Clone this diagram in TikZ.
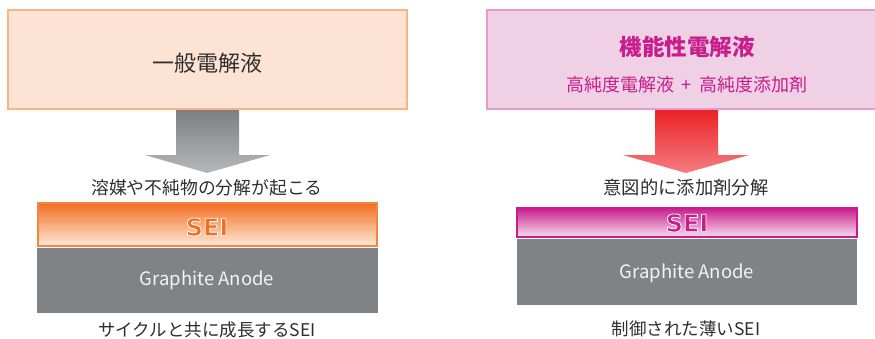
\documentclass[tikz,border=0pt]{standalone}
\usepackage{fontspec}
\setmainfont{Noto Sans CJK JP}
\newfontfamily\seifont{DejaVu Sans}
\definecolor{peachfill}{HTML}{FDE3D3}
\definecolor{peachline}{HTML}{FBB384}
\definecolor{pinkfill}{HTML}{F0D0E5}
\definecolor{pinkline}{HTML}{E39CCB}
\definecolor{magenta1}{HTML}{C81D8D}
\definecolor{orange1}{HTML}{F26F21}
\definecolor{orangelight}{HTML}{FEE8D8}
\definecolor{pinklight}{HTML}{F7DDEE}
\definecolor{graphite}{HTML}{818285}
\definecolor{graytop}{HTML}{7E7F83}
\definecolor{graybot}{HTML}{B6B7BA}
\definecolor{redtop}{HTML}{EC2227}
\definecolor{redbot}{HTML}{F37D80}
\definecolor{txt}{HTML}{2E2E2E}
\tikzset{
  plain/.style={inner sep=0pt, anchor=center, text=txt},
  anodetext/.style={inner sep=0pt, anchor=center, text=white!90!graphite, font=\fontsize{18.5}{20}\selectfont},
  seitext/.style={inner sep=0pt, anchor=center, font=\seifont\bfseries\fontsize{24}{26}\selectfont},
}
\newcommand{\outlined}[2]{\textcolor{#1}{\special{pdf:literal direct 2 Tr 0.8 w 1 1 1 RG 1 j}#2\special{pdf:literal direct 0 Tr}}}
\begin{document}
\begin{tikzpicture}[x=1pt,y=-1pt]
\useasboundingbox (0,0) rectangle (875,338);
% top boxes
\draw[peachline, line width=2pt, fill=peachfill] (8,10) rectangle (407,109);
\node[plain, font=\fontsize{22}{24}\selectfont] (t1) at (207,63) {一般電解液};
\draw[pinkline, line width=2pt, fill=pinkfill] (487,10) rectangle (885,109);
\node[plain, text=magenta1, font=\bfseries\fontsize{22.5}{24}\selectfont] (t2) at (687,47) {機能性電解液};
\node[plain, text=magenta1, font=\fontsize{18}{20}\selectfont] (t3) at (687,85) {高純度電解液\hspace{0.4em}+\hspace{0.4em}高純度添加剤};
% arrows
\shade[top color=graytop, bottom color=graybot] (176,110) -- (239,110) -- (239,155) -- (270,155) -- (207,173) -- (145,155) -- (176,155) -- cycle;
\shade[top color=redtop, bottom color=redbot] (655,110) -- (718,110) -- (718,155) -- (749,155) -- (686,173) -- (623,155) -- (655,155) -- cycle;
% middle texts
\node[plain, font=\fontsize{17.8}{19}\selectfont] (m1) at (207,188) {溶媒や不純物の分解が起こる};
\node[plain, font=\fontsize{18.3}{19}\selectfont] (m2) at (686,188) {意図的に添加剤分解};
% left stack
\fill[graphite] (37,248) rectangle (378,313);
\shade[top color=orange1, bottom color=orangelight] (38,203) rectangle (377,246);
\draw[orange1!85!white, line width=1.2pt] (38,203) rectangle (377,246);
\node[seitext] (s1) at (207,227) {\outlined{orange1}{SEI}};
\node[anodetext] (g1) at (207,280) {Graphite Anode};
\node[plain, font=\fontsize{17.5}{19}\selectfont] (b1) at (207,330) {サイクルと共に成長するSEI};
% right stack
\fill[graphite] (517,239) rectangle (857,305);
\shade[top color=magenta1, bottom color=pinklight] (517,208) rectangle (857,237);
\draw[magenta1, line width=1.2pt] (517,208) rectangle (857,237);
\node[seitext] (s2) at (687,223) {\outlined{magenta1}{SEI}};
\node[anodetext] (g2) at (687,273) {Graphite Anode};
\node[plain, font=\fontsize{17.5}{19}\selectfont] (b2) at (686,329) {制御された薄いSEI};
\end{tikzpicture}
\end{document}
